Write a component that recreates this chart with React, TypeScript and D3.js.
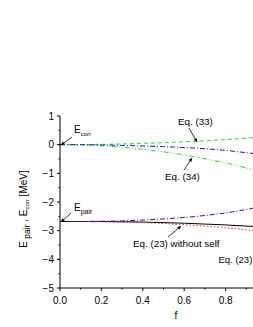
import React from "react"
import * as d3 from "d3"

// f values and energies (MeV)
const fVals = [0, 0.1, 0.2, 0.3, 0.4, 0.5, 0.6, 0.7, 0.8, 0.9, 1.0]
const eq33 = [0, 0.003, 0.011, 0.025, 0.045, 0.07, 0.1, 0.137, 0.179, 0.227, 0.28]
const corrBlue = [0, -0.002, -0.01, -0.025, -0.045, -0.07, -0.1, -0.14, -0.2, -0.28, -0.36]
const eq34 = [0, -0.01, -0.04, -0.09, -0.16, -0.25, -0.36, -0.49, -0.64, -0.81, -1.0]
const pairBlue = [-2.68, -2.68, -2.67, -2.66, -2.63, -2.59, -2.54, -2.47, -2.38, -2.26, -2.12]
const eq23 = [-2.68, -2.68, -2.68, -2.69, -2.7, -2.72, -2.74, -2.77, -2.8, -2.84, -2.88]
const eq23NoSelf = [-2.68, -2.68, -2.69, -2.7, -2.72, -2.75, -2.79, -2.84, -2.9, -2.97, -3.05]

const xTicks = [0, 0.2, 0.4, 0.6, 0.8]
const yTicks = [1, 0, -1, -2, -3, -4, -5]

const font = "'Liberation Sans', Arial, sans-serif"

export default function App() {
  const width = 253
  const height = 327
  const x = d3.scaleLinear().domain([0, 1]).range([60, 267])
  const y = d3.scaleLinear().domain([-5, 1]).range([288, 116])

  const line = (vals: number[]) =>
    d3.line<number>().x((_, i) => x(fVals[i])).y(d => y(d)).curve(d3.curveMonotoneX)(vals) || ""

  const series = [
    { vals: eq33, color: "#22dd22", dash: "4,3" },
    { vals: eq34, color: "#22dd22", dash: "5,2,1,2,1,2" },
    { vals: corrBlue, color: "#1111ee", dash: "5,2,1,2" },
    { vals: eq23, color: "#000000", dash: "" },
    { vals: eq23NoSelf, color: "#ff2222", dash: "1.5,2" },
    { vals: pairBlue, color: "#1111ee", dash: "5,2,1,2" },
  ]

  const minorX = d3.range(0, 1.0001, 0.1)
  const minorY = d3.range(-5, 1.0001, 0.5)

  const arrow = (x1: number, y1: number, x2: number, y2: number, key: string) => {
    const a = Math.atan2(y2 - y1, x2 - x1)
    const L = 4, w = 0.45
    const p1 = [x2 - L * Math.cos(a - w), y2 - L * Math.sin(a - w)]
    const p2 = [x2 - L * Math.cos(a + w), y2 - L * Math.sin(a + w)]
    return (
      <g key={key}>
        <line x1={x1} y1={y1} x2={x2} y2={y2} stroke="#000" strokeWidth={0.8} />
        <path d={`M${x2},${y2}L${p1[0]},${p1[1]}L${p2[0]},${p2[1]}Z`} fill="#000" />
      </g>
    )
  }

  return (
    <svg width={width} height={height} style={{ display: "block", position: "absolute", left: 0, top: 0 }}>
      <defs>
        <clipPath id="plot">
          <rect x={60} y={100} width={200} height={200} />
        </clipPath>
      </defs>
      <g clipPath="url(#plot)">
        {series.map((s, i) => (
          <path key={i} d={line(s.vals)} fill="none" stroke={s.color} strokeWidth={1} strokeDasharray={s.dash} />
        ))}
      </g>
      {/* axes */}
      <line x1={60} y1={y(1)} x2={60} y2={y(-5)} stroke="#000" />
      <line x1={60} y1={y(-5)} x2={253} y2={y(-5)} stroke="#000" />
      {minorY.map(v => (
        <line key={"my" + v} x1={60} x2={Number.isInteger(v) ? 57 : 58.5} y1={y(v)} y2={y(v)} stroke="#000" />
      ))}
      {minorX.map(v => (
        <line key={"mx" + v} y1={y(-5)} y2={y(-5) + (Math.abs(v * 5 - Math.round(v * 5)) < 1e-6 ? 3 : 1.5)} x1={x(v)} x2={x(v)} stroke="#000" />
      ))}
      {yTicks.map(v => (
        <text key={"ty" + v} x={54} y={y(v) + 3.5} textAnchor="end" fontSize={10} fontFamily={font}>
          {v < 0 ? "\u2212" + Math.abs(v) : v}
        </text>
      ))}
      {xTicks.map(v => (
        <text key={"tx" + v} x={x(v)} y={304} textAnchor="middle" fontSize={10} fontFamily={font}>
          {v.toFixed(1)}
        </text>
      ))}
      <text x={176} y={319} textAnchor="middle" fontSize={10} fontFamily={font}>f</text>
      <text transform="translate(27,209) rotate(-90)" textAnchor="middle" fontSize={10} fontFamily={font}>
        E<tspan fontSize={8.5} dy={3}> pair</tspan><tspan dy={-3}> , E</tspan><tspan fontSize={6} dy={2}>corr</tspan><tspan dy={-2}> [MeV]</tspan>
      </text>
      {/* annotations */}
      <text x={74} y={133} fontSize={10} fontFamily={font}>
        E<tspan fontSize={6} dy={3}>corr</tspan>
      </text>
      {arrow(72, 137, 61, 145, "a1")}
      <text x={74} y={211} fontSize={10} fontFamily={font}>
        E<tspan fontSize={7} dy={3}>pair</tspan>
      </text>
      {arrow(71, 213, 61, 222, "a2")}
      <text x={178} y={125} fontSize={9.8} fontFamily={font}>Eq. (33)</text>
      {arrow(189, 128, 197, 142, "a3")}
      <text x={165} y={180} fontSize={9.8} fontFamily={font}>Eq. (34)</text>
      {arrow(184, 170, 192, 158, "a4")}
      <text x={133} y={247} fontSize={9.8} fontFamily={font}>Eq. (23) without self</text>
      {arrow(168, 237, 181, 226, "a5")}
      <text x={218.5} y={263} fontSize={9.5} fontFamily={font}>Eq. (23)</text>
    </svg>
  )
}
